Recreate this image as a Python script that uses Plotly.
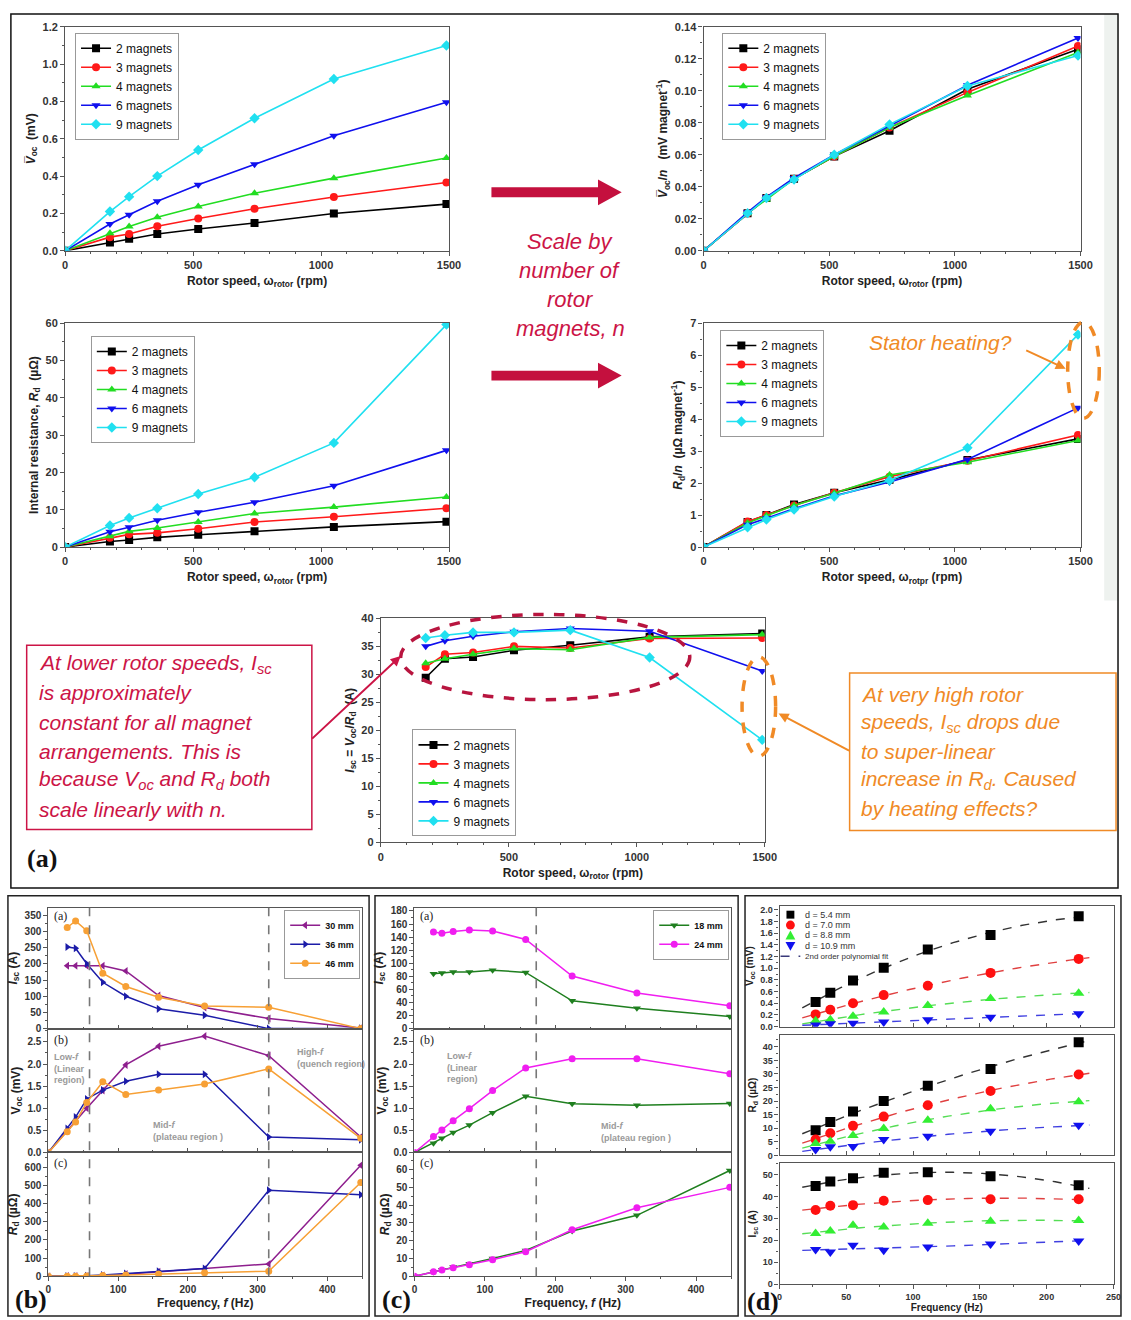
import numpy as np
import plotly.graph_objects as go

W, H = 1131, 1320
def X(p): return p / W
def Y(p): return 1 - p / H

# ---------------- data: panel (a) ----------------
rotor_speed = [0, 175, 250, 360, 520, 740, 1050, 1490]
magnet_names = ["2 magnets", "3 magnets", "4 magnets", "6 magnets", "9 magnets"]

voc_2m = [0, 0.044, 0.064, 0.090, 0.117, 0.149, 0.200, 0.250]
voc_3m = [0, 0.073, 0.090, 0.131, 0.173, 0.225, 0.288, 0.366]
voc_4m = [0, 0.094, 0.130, 0.179, 0.237, 0.308, 0.389, 0.497]
voc_6m = [0, 0.143, 0.193, 0.265, 0.354, 0.464, 0.616, 0.796]
voc_9m = [0, 0.210, 0.290, 0.400, 0.540, 0.710, 0.920, 1.100]

vocn_2m = [0, 0.0235, 0.033, 0.045, 0.059, 0.075, 0.101, 0.126]
vocn_3m = [0, 0.0235, 0.033, 0.045, 0.059, 0.077, 0.099, 0.128]
vocn_4m = [0, 0.0235, 0.032, 0.045, 0.059, 0.077, 0.097, 0.124]
vocn_6m = [0, 0.0240, 0.0335, 0.0455, 0.060, 0.078, 0.1035, 0.133]
vocn_9m = [0, 0.0235, 0.033, 0.0445, 0.060, 0.079, 0.103, 0.122]

rd_2m = [0, 1.5, 1.9, 2.6, 3.3, 4.2, 5.4, 6.8]
rd_3m = [0, 2.5, 3.4, 3.8, 4.9, 6.7, 8.1, 10.4]
rd_4m = [0, 2.9, 4.2, 5.1, 6.7, 9.0, 10.7, 13.4]
rd_6m = [0, 4.1, 5.3, 7.2, 9.3, 12.0, 16.4, 25.9]
rd_9m = [0, 5.75, 7.8, 10.4, 14.2, 18.7, 27.9, 59.6]

rdn_2m = [0, 0.78, 1.00, 1.33, 1.70, 2.10, 2.72, 3.38]
rdn_3m = [0, 0.80, 1.00, 1.30, 1.70, 2.20, 2.70, 3.50]
rdn_4m = [0, 0.75, 0.98, 1.30, 1.68, 2.25, 2.65, 3.33]
rdn_6m = [0, 0.70, 0.90, 1.20, 1.60, 2.03, 2.74, 4.35]
rdn_9m = [0, 0.62, 0.86, 1.17, 1.58, 2.08, 3.10, 6.64]

isc_speed = [175, 250, 360, 520, 740, 1050, 1490]
isc_2m = [29.4, 32.8, 33.1, 34.3, 35.2, 36.7, 37.3]
isc_3m = [31.3, 33.6, 33.9, 35.0, 34.7, 36.4, 36.5]
isc_4m = [32.0, 32.8, 33.6, 34.6, 34.4, 36.6, 37.1]
isc_6m = [35.0, 36.0, 36.8, 37.6, 38.2, 37.7, 30.6]
isc_9m = [36.5, 37.0, 37.5, 37.5, 37.9, 33.0, 18.3]

# ---------------- data: panel (b) ----------------
freq_bc = [0, 27, 39, 55, 78, 111, 158, 224, 316, 448]
freq_bc_isc = [27, 39, 55, 78, 111, 158, 224, 316, 448]
b_names = ["30 mm", "36 mm", "46 mm"]
b_isc_30 = [194, 194, 194, 194, 178, 102, 65, 31, 2]
b_isc_36 = [252, 248, 200, 143, 100, 61, 41, 0, 0.7]
b_isc_46 = [312, 332, 302, 171, 130, 97, 70, 66, 0]
b_voc_30 = [0, 0.50, 0.71, 1.00, 1.40, 1.98, 2.40, 2.63, 2.19, 0.35]
b_voc_36 = [0, 0.54, 0.80, 1.21, 1.41, 1.61, 1.77, 1.77, 0.35, 0.29]
b_voc_46 = [0, 0.47, 0.69, 1.13, 1.60, 1.31, 1.41, 1.55, 1.89, 0.32]
b_rd_30 = [0, 1, 1, 2, 5, 12, 25, 40, 68, 610]
b_rd_36 = [0, 1, 2, 3, 7, 15, 28, 43, 472, 448]
b_rd_46 = [0, 1, 1, 2, 5, 8, 13, 20, 28, 515]
b_region_bounds = [59, 316]

# ---------------- data: panel (c) ----------------
c_names = ["18 mm", "24 mm"]
c_isc_18 = [84, 85, 86.5, 86.5, 89.5, 86, 42.5, 31, 18.7]
c_isc_24 = [148, 146, 148.6, 151, 149.5, 136.5, 80.5, 54.6, 35]
c_voc_18 = [0, 0.21, 0.32, 0.45, 0.62, 0.90, 1.27, 1.10, 1.07, 1.11]
c_voc_24 = [0, 0.36, 0.51, 0.72, 0.99, 1.40, 1.91, 2.12, 2.12, 1.78]
c_rd_18 = [0, 2.5, 3.7, 5.3, 7.1, 10.0, 14.5, 25.5, 34.3, 59.5]
c_rd_24 = [0, 2.6, 3.5, 4.8, 6.5, 9.3, 13.8, 26.2, 38.5, 50.0]
c_region_bounds = [173]

# ---------------- data: panel (d) ----------------
freq_d = [27, 38, 55, 78, 111, 158, 224]
fit_span = [17, 232]
d_names = ["d = 5.4 mm", "d = 7.0 mm", "d = 8.8 mm", "d = 10.9 mm"]
d_voc_54 = [0.42, 0.58, 0.79, 1.01, 1.32, 1.57, 1.89]
d_voc_70 = [0.21, 0.29, 0.40, 0.54, 0.70, 0.92, 1.16]
d_voc_88 = [0.10, 0.12, 0.18, 0.25, 0.36, 0.48, 0.57]
d_voc_109 = [0.03, 0.05, 0.06, 0.08, 0.12, 0.16, 0.22]
d_rd_54 = [9.3, 12.3, 16.2, 20.0, 25.7, 31.8, 41.7]
d_rd_70 = [5.9, 8.2, 10.9, 14.3, 18.5, 23.7, 29.8]
d_rd_88 = [4.4, 5.2, 7.3, 9.9, 13.0, 17.2, 19.8]
d_rd_109 = [2.2, 3.2, 3.3, 5.9, 7.1, 8.9, 11.1]
d_isc_54 = [44.7, 46.8, 48.2, 50.7, 51.0, 49.2, 45.0]
d_isc_70 = [33.8, 35.7, 36.0, 38.0, 38.3, 38.7, 38.7]
d_isc_88 = [23.1, 24.2, 26.9, 26.0, 27.8, 28.7, 29.0]
d_isc_109 = [15.8, 14.7, 17.7, 15.5, 17.0, 18.3, 19.7]

# ---------------- styles ----------------
FONT = "Liberation Sans"
SERIF = "Liberation Serif"
mag_colors = ["#000000", "#ff1a1a", "#22dd22", "#1010ee", "#20e0f0"]
mag_symbols = ["square", "circle", "triangle-up", "triangle-down", "diamond"]
b_colors = ["#8e1f8e", "#1c1ca8", "#f7a035"]
b_symbols = ["triangle-left", "triangle-right", "circle"]
c_colors = ["#1f7f1f", "#f01ef0"]
c_symbols = ["triangle-down", "circle"]
d_colors = ["#000000", "#ff1010", "#33ee33", "#1010ee"]
d_fit_colors = ["#333333", "#e04040", "#55dd55", "#4040e0"]
d_symbols = ["square", "circle", "triangle-up", "triangle-down"]
RED = "#cc1446"
RED_ARROW = "#c4103e"
ORANGE = "#f08a26"

fig = go.Figure()

def tr(i):
    return ("x" if i == 1 else f"x{i}"), ("y" if i == 1 else f"y{i}")

# panel (a) traces
a_sets = [
    (1, [voc_2m, voc_3m, voc_4m, voc_6m, voc_9m], rotor_speed, "legend"),
    (2, [vocn_2m, vocn_3m, vocn_4m, vocn_6m, vocn_9m], rotor_speed, "legend2"),
    (3, [rd_2m, rd_3m, rd_4m, rd_6m, rd_9m], rotor_speed, "legend3"),
    (4, [rdn_2m, rdn_3m, rdn_4m, rdn_6m, rdn_9m], rotor_speed, "legend4"),
    (5, [isc_2m, isc_3m, isc_4m, isc_6m, isc_9m], isc_speed, "legend5"),
]
for idx, series, xs, leg in a_sets:
    xa, ya = tr(idx)
    for name, ys, col, sym in zip(magnet_names, series, mag_colors, mag_symbols):
        fig.add_trace(go.Scatter(x=xs, y=ys, name=name, mode="lines+markers",
                                 line=dict(color=col, width=1.6),
                                 marker=dict(symbol=sym, size=8, color=col),
                                 xaxis=xa, yaxis=ya, legend=leg))

# panel (b)
b_sets = [(6, [b_isc_30, b_isc_36, b_isc_46], freq_bc_isc, True),
          (7, [b_voc_30, b_voc_36, b_voc_46], freq_bc, False),
          (8, [b_rd_30, b_rd_36, b_rd_46], freq_bc, False)]
for idx, series, xs, show in b_sets:
    xa, ya = tr(idx)
    for name, ys, col, sym in zip(b_names, series, b_colors, b_symbols):
        fig.add_trace(go.Scatter(x=xs, y=ys, name=name, mode="lines+markers",
                                 line=dict(color=col, width=1.5),
                                 marker=dict(symbol=sym, size=7, color=col),
                                 xaxis=xa, yaxis=ya, legend="legend6", showlegend=show))

# panel (c)
c_sets = [(9, [c_isc_18, c_isc_24], freq_bc_isc, True),
          (10, [c_voc_18, c_voc_24], freq_bc, False),
          (11, [c_rd_18, c_rd_24], freq_bc, False)]
for idx, series, xs, show in c_sets:
    xa, ya = tr(idx)
    for name, ys, col, sym in zip(c_names, series, c_colors, c_symbols):
        fig.add_trace(go.Scatter(x=xs, y=ys, name=name, mode="lines+markers",
                                 line=dict(color=col, width=1.5),
                                 marker=dict(symbol=sym, size=7, color=col),
                                 xaxis=xa, yaxis=ya, legend="legend7", showlegend=show))

# panel (d): data + 2nd order polynomial fits
d_sets = [(12, [d_voc_54, d_voc_70, d_voc_88, d_voc_109]),
          (13, [d_rd_54, d_rd_70, d_rd_88, d_rd_109]),
          (14, [d_isc_54, d_isc_70, d_isc_88, d_isc_109])]
f_fit = np.linspace(fit_span[0], fit_span[1], 60)
for idx, series in d_sets:
    xa, ya = tr(idx)
    for name, ys, col, fcol, sym in zip(d_names, series, d_colors, d_fit_colors, d_symbols):
        coef = np.polyfit(freq_d, ys, 2)
        fig.add_trace(go.Scatter(x=f_fit, y=np.polyval(coef, f_fit), mode="lines",
                                 line=dict(color=fcol, width=1.4, dash="dash"),
                                 xaxis=xa, yaxis=ya, showlegend=False, hoverinfo="skip"))
        fig.add_trace(go.Scatter(x=freq_d, y=ys, name=name, mode="markers",
                                 marker=dict(symbol=sym, size=10, color=col),
                                 xaxis=xa, yaxis=ya, showlegend=False))

# ---------------- axes ----------------
boxes = {
    1: (63, 452, 21, 247), 2: (710, 1092, 21, 247),
    3: (63, 452, 320, 546), 4: (710, 1092, 320, 546),
    5: (383, 772, 618, 844),
    6: (46, 364, 910, 1032), 7: (46, 364, 1032, 1157), 8: (46, 364, 1157, 1282),
    9: (417, 738, 910, 1032), 10: (417, 738, 1032, 1157), 11: (417, 738, 1157, 1282),
    12: (787, 1126, 908, 1030), 13: (787, 1126, 1038, 1160), 14: (787, 1126, 1168, 1290),
}

def base_axis(size, inside=False):
    return dict(showline=True, linecolor="#555", linewidth=1.2, mirror=True,
                ticks="inside" if inside else "outside", ticklen=4, tickcolor="#555",
                showgrid=False, zeroline=False,
                tickfont=dict(family=FONT, size=size, color="#333", weight="bold"),
                minor=dict(ticks="inside" if inside else "outside", ticklen=2, tickcolor="#555"))

rotor_title = "Rotor speed, ω<sub>rotor</sub> (rpm)"
ax_specs = {
    1: dict(xr=[0, 1500], xd=500, xm=100, yr=[0, 1.2], yd=0.2, ym=0.1, yf=".1f",
            xt=rotor_title, yt="<i>V̅</i><sub>oc</sub>  (mV)"),
    2: dict(xr=[0, 1500], xd=500, xm=100, yr=[0, 0.14], yd=0.02, ym=0.01, yf=".2f",
            xt=rotor_title, yt="<i>V̅</i><sub>oc</sub>/<i>n</i>   (mV magnet<sup>-1</sup>)"),
    3: dict(xr=[0, 1500], xd=500, xm=100, yr=[0, 60], yd=10, ym=5, yf="d",
            xt=rotor_title, yt="Internal resistance, <i>R</i><sub>d</sub>  (µΩ)"),
    4: dict(xr=[0, 1500], xd=500, xm=100, yr=[0, 7], yd=1, ym=0.5, yf="d",
            xt="Rotor speed, ω<sub>rotpr</sub> (rpm)", yt="<i>R</i><sub>d</sub>/<i>n</i>  (µΩ magnet<sup>-1</sup>)"),
    5: dict(xr=[0, 1500], xd=500, xm=100, yr=[0, 40], yd=5, ym=2.5, yf="d",
            xt=rotor_title, yt="<i>I</i><sub>sc</sub> = <i>V</i><sub>oc</sub>/<i>R</i><sub>d</sub>  (A)"),
    6: dict(xr=[0, 450], xd=100, xm=50, yr=[0, 373], yd=50, ym=25, yf="d", xt=None, yt="<i>I</i><sub>sc</sub> (A)"),
    7: dict(xr=[0, 450], xd=100, xm=50, yr=[0, 2.8], yd=0.5, ym=0.25, yf=".1f", xt=None, yt="V<sub>oc</sub> (mV)"),
    8: dict(xr=[0, 450], xd=100, xm=50, yr=[0, 680], yd=100, ym=50, yf="d",
            xt="Frequency, <i>f</i> (Hz)", yt="<i>R</i><sub>d</sub> (µΩ)"),
    9: dict(xr=[0, 450], xd=100, xm=50, yr=[0, 185], yd=20, ym=10, yf="d", xt=None, yt="<i>I</i><sub>sc</sub> (A)"),
    10: dict(xr=[0, 450], xd=100, xm=50, yr=[0, 2.8], yd=0.5, ym=0.25, yf=".1f", xt=None, yt="V<sub>oc</sub> (mV)"),
    11: dict(xr=[0, 450], xd=100, xm=50, yr=[0, 69.6], yd=10, ym=5, yf="d",
             xt="Frequency, <i>f</i> (Hz)", yt="<i>R</i><sub>d</sub> (µΩ)"),
    12: dict(xr=[0, 250.5], xd=50, xm=25, yr=[0, 2.07], yd=0.2, ym=0.1, yf=".1f", xt=None, yt="V<sub>oc</sub> (mV)"),
    13: dict(xr=[0, 250.5], xd=50, xm=25, yr=[0, 44.5], yd=5, ym=2.5, yf="d", xt=None, yt="R<sub>d</sub> (µΩ)"),
    14: dict(xr=[0, 250.5], xd=50, xm=25, yr=[0, 55], yd=10, ym=5, yf="d",
             xt="Frequency (Hz)", yt="I<sub>sc</sub> (A)"),
}

layout_axes = {}
for i, s in ax_specs.items():
    x0, x1, y0, y1 = boxes[i]
    if i <= 5:
        tsize, ttl, stand = 11, 12, 6
    elif i <= 11:
        tsize, ttl, stand = 10, 12, 4
    else:
        tsize, ttl, stand = 9, 10, 1
    xa = base_axis(tsize, inside=(s["xt"] is None))
    xa.update(domain=[X(x0), X(x1)], range=s["xr"], dtick=s["xd"], tick0=0,
              anchor=("y" if i == 1 else f"y{i}"), showticklabels=s["xt"] is not None)
    xa["minor"]["dtick"] = s["xm"]
    if s["xt"]:
        xa["title"] = dict(text=s["xt"], font=dict(family=FONT, size=ttl, color="#222", weight="bold"), standoff=stand)
    ya = base_axis(tsize)
    ya.update(domain=[Y(y1), Y(y0)], range=s["yr"], dtick=s["yd"], tick0=0, tickformat=s["yf"],
              anchor=("x" if i == 1 else f"x{i}"))
    ya["minor"]["dtick"] = s["ym"]
    ya["title"] = dict(text=s["yt"], font=dict(family=FONT, size=ttl, color="#222", weight="bold"), standoff=4)
    layout_axes["xaxis" if i == 1 else f"xaxis{i}"] = xa
    layout_axes["yaxis" if i == 1 else f"yaxis{i}"] = ya

# ---------------- legends ----------------
def leg(x, y, size=12, border=True, anchor="top", xanchor="left"):
    return dict(x=X(x), y=Y(y), xanchor=xanchor, yanchor=anchor, bgcolor="rgba(255,255,255,0.95)",
                bordercolor="#999" if border else "rgba(0,0,0,0)", borderwidth=1,
                font=dict(family=FONT, size=size, color="#111"), itemwidth=30, tracegroupgap=0)

legends = dict(
    legend=leg(73, 27), legend2=leg(729, 27), legend3=leg(89, 333), legend4=leg(727, 327),
    legend5=leg(415, 838, anchor="bottom"),
    legend6=dict(leg(362, 912, xanchor="right"), font=dict(family=FONT, size=9, color="#111", weight="bold")),
    legend7=dict(leg(736, 912, xanchor="right"), font=dict(family=FONT, size=9, color="#111", weight="bold")),
)

# ---------------- shapes & annotations ----------------
shapes = []
annotations = []

def rect(x0, y0, x1, y1, color="#111", width=1.5, fill=None, dash=None):
    d = dict(type="rect", xref="paper", yref="paper", x0=X(x0), x1=X(x1), y0=Y(y1), y1=Y(y0),
             line=dict(color=color, width=width, dash=dash) if width else dict(width=0), layer="below")
    if fill:
        d["fillcolor"] = fill
    return d

# light band at right edge and frames
shapes.append(rect(1116, 8, 1131, 600, width=0, fill="#eef2ef"))
shapes.append(rect(8, 8, 1130, 890, color="#111", width=1.5))
shapes.append(rect(5, 898, 371, 1322, color="#222", width=1.5))
shapes.append(rect(377, 898, 745, 1322, color="#222", width=1.5))
shapes.append(rect(752, 898, 1133, 1322, color="#222", width=1.5))

# big red arrows
for yc in [188, 373]:
    shapes.append(dict(type="path", xref="paper", yref="paper",
                       path=(f"M {X(495)},{Y(yc-5)} L {X(603)},{Y(yc-5)} L {X(603)},{Y(yc-13)} "
                             f"L {X(627)},{Y(yc)} L {X(603)},{Y(yc+13)} L {X(603)},{Y(yc+5)} "
                             f"L {X(495)},{Y(yc+5)} Z"),
                       fillcolor=RED_ARROW, line=dict(width=0)))

# text boxes
shapes.append(rect(24, 645, 313, 831, color=RED, width=1.5))
shapes.append(rect(858, 673, 1128, 832, color=ORANGE, width=1.5))

# dashed ellipses
def ellipse(x0, y0, x1, y1, color):
    return dict(type="circle", xref="paper", yref="paper", x0=X(x0), x1=X(x1), y0=Y(y1), y1=Y(y0),
                line=dict(color=color, width=3.5, dash="dash"))
shapes.append(ellipse(403, 614, 696, 700, "#b8153f"))
shapes.append(ellipse(749, 657, 783, 757, ORANGE))
shapes.append(ellipse(1079, 319, 1111, 416, ORANGE))

# vertical region boundaries in (b) and (c)
for xv in b_region_bounds:
    shapes.append(dict(type="line", xref="x8", yref="paper", x0=xv, x1=xv, y0=Y(1282), y1=Y(910),
                       line=dict(color="#777", width=1.6, dash="dash")))
for xv in c_region_bounds:
    shapes.append(dict(type="line", xref="x11", yref="paper", x0=xv, x1=xv, y0=Y(1282), y1=Y(910),
                       line=dict(color="#777", width=1.6, dash="dash")))

def txt(x, y, text, size, color, xanchor="left", family=FONT, yanchor="middle", **kw):
    d = dict(x=X(x), y=Y(y), xref="paper", yref="paper", text=text, showarrow=False,
             xanchor=xanchor, yanchor=yanchor, font=dict(family=family, size=size, color=color))
    d.update(kw)
    return d

scale_lines = ["Scale by", "number of", "rotor", "magnets, n"]
for k, t in enumerate(scale_lines):
    annotations.append(txt(575, 238 + k * 29, f"<i>{t}</i>", 22, RED, xanchor="center"))

left_lines = ["At lower rotor speeds, I<sub>sc</sub>", "is approximately", "constant for all magnet",
              "arrangements. This is", "because V<sub>oc</sub> and R<sub>d</sub> both", "scale linearly with n."]
for k, t in enumerate(left_lines):
    annotations.append(txt(34, 664 + k * 29.3, f"<i>{t}</i>", 21, RED))

right_lines = ["At very high rotor", "speeds, I<sub>sc</sub> drops due", "to super-linear",
               "increase in R<sub>d</sub>. Caused", "by heating effects?"]
for k, t in enumerate(right_lines):
    annotations.append(txt(868, 695 + k * 28.8, f"<i>{t}</i>", 21, ORANGE))

annotations.append(txt(876, 340, "<i>Stator heating?</i>", 21, ORANGE))

# pointer arrows
def arrow(hx, hy, tx, ty, color, width=2):
    return dict(x=X(hx), y=Y(hy), xref="paper", yref="paper", ax=tx - hx, ay=ty - hy,
                axref="pixel", ayref="pixel", text="", showarrow=True, arrowhead=2,
                arrowsize=1, arrowwidth=width, arrowcolor=color)
annotations.append(arrow(403, 656, 313, 740, RED))
annotations.append(arrow(786, 714, 858, 752, ORANGE))
annotations.append(arrow(1077, 366, 1036, 347, ORANGE))

# panel letters
annotations.append(txt(22, 860, "<b>(a)</b>", 26, "#111", family=SERIF))
annotations.append(txt(10, 1305, "<b>(b)</b>", 26, "#111", family=SERIF))
annotations.append(txt(382, 1305, "<b>(c)</b>", 26, "#111", family=SERIF))
annotations.append(txt(752, 1307, "<b>(d)</b>", 26, "#111", family=SERIF))

# sub-panel letters in (b) and (c)
for xl in [50, 421]:
    for yl, lab in zip([918, 1043, 1168], ["(a)", "(b)", "(c)"]):
        annotations.append(txt(xl, yl, lab, 12, "#222", family=SERIF))

# region notes
GRAY = "#9a9a9a"
annotations.append(txt(50, 1072, "<b>Low-<i>f</i><br>(Linear<br>region)</b>", 9, GRAY, align="left"))
annotations.append(txt(296, 1062, "<b>High-<i>f</i><br>(quench region)</b>", 9, GRAY, align="left"))
annotations.append(txt(150, 1135, "<b>Mid-<i>f</i><br>(plateau region )</b>", 9, GRAY, align="left"))
annotations.append(txt(448, 1071, "<b>Low-<i>f</i><br>(Linear<br>region)</b>", 9, GRAY, align="left"))
annotations.append(txt(604, 1136, "<b>Mid-<i>f</i><br>(plateau region )</b>", 9, GRAY, align="left"))

# manual compact legend for (d)
d_leg_rows = [917, 927.5, 938, 948.5, 959]
gx = 798
for k, (col, sym) in enumerate(zip(d_colors, d_symbols)):
    yc = d_leg_rows[k]
    if sym == "square":
        shapes.append(dict(type="rect", xref="paper", yref="paper", x0=X(gx - 4), x1=X(gx + 4),
                           y0=Y(yc + 4), y1=Y(yc - 4), fillcolor=col, line=dict(width=0)))
    elif sym == "circle":
        shapes.append(dict(type="circle", xref="paper", yref="paper", x0=X(gx - 4.5), x1=X(gx + 4.5),
                           y0=Y(yc + 4.5), y1=Y(yc - 4.5), fillcolor=col, line=dict(width=0)))
    elif sym == "triangle-up":
        shapes.append(dict(type="path", xref="paper", yref="paper",
                           path=f"M {X(gx-5)},{Y(yc+4)} L {X(gx+5)},{Y(yc+4)} L {X(gx)},{Y(yc-5)} Z",
                           fillcolor=col, line=dict(width=0)))
    else:
        shapes.append(dict(type="path", xref="paper", yref="paper",
                           path=f"M {X(gx-5)},{Y(yc-4)} L {X(gx+5)},{Y(yc-4)} L {X(gx)},{Y(yc+5)} Z",
                           fillcolor=col, line=dict(width=0)))
    annotations.append(txt(811, yc, d_names[k], 9, "#333"))
shapes.append(dict(type="line", xref="paper", yref="paper", x0=X(788), x1=X(808),
                   y0=Y(d_leg_rows[4]), y1=Y(d_leg_rows[4]), line=dict(color="#3a3a7a", width=1.4, dash="dash")))
annotations.append(txt(811, d_leg_rows[4], "2nd order polynomial fit", 8, "#333"))

fig.update_layout(
    width=W, height=H, margin=dict(l=0, r=0, t=0, b=0), autosize=False,
    paper_bgcolor="white", plot_bgcolor="white",
    font=dict(family=FONT, color="#222"),
    shapes=shapes, annotations=annotations, **layout_axes, **legends,
)

post_js = (
    "var h=document.documentElement.style;h.margin='0';h.padding='0';h.overflow='hidden';"
    "h.width='1131px';h.height='1320px';"
    "var b=document.body.style;b.margin='0';b.padding='0';b.overflow='hidden';"
    "b.width='1131px';b.height='1320px';"
    "var g=document.getElementById('{plot_id}');g.style.position='absolute';"
    "g.style.left='0px';g.style.top='0px';"
)
fig.write_html("out.html", config={"responsive": False, "displayModeBar": False},
               post_script=post_js)
